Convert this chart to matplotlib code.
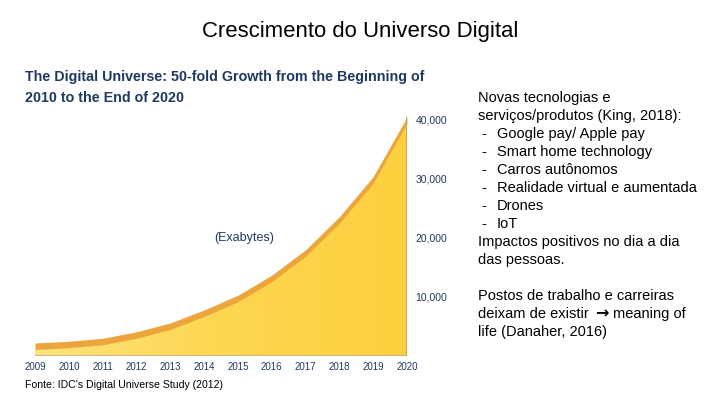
import numpy as np
import matplotlib.pyplot as plt
from matplotlib.patches import PathPatch
from matplotlib.path import Path
from matplotlib.colors import LinearSegmentedColormap

plt.rcParams["font.family"] = ["Liberation Sans", "DejaVu Sans"]

# data (exabytes, top edge of the curve)
years = [2009, 2010, 2011, 2012, 2013, 2014, 2015, 2016, 2017, 2018, 2019, 2020]
exabytes = [2200, 2500, 3000, 4100, 5600, 7800, 10300, 13700, 18000, 23600, 30400, 40500]
y_ticks = [10000, 20000, 30000, 40000]
y_tick_labels = ["10,000", "20,000", "30,000", "40,000"]

title = "Crescimento do Universo Digital"
chart_title = ["The Digital Universe: 50-fold Growth from the Beginning of",
               "2010 to the End of 2020"]
source = "Fonte: IDC's Digital Universe Study (2012)"
side_lines = [
    ("", "Novas tecnologias e"),
    ("", "serviços/produtos (King, 2018):"),
    ("-", "Google pay/ Apple pay"),
    ("-", "Smart home technology"),
    ("-", "Carros autônomos"),
    ("-", "Realidade virtual e aumentada"),
    ("-", "Drones"),
    ("-", "IoT"),
    ("", "Impactos positivos no dia a dia"),
    ("", "das pessoas."),
    ("", ""),
    ("", "Postos de trabalho e carreiras"),
]
last_lines = [("deixam de existir", "\u2192", "meaning of"), "life (Danaher, 2016)"]

navy = "#1f3a60"
W, H = 720, 405

fig = plt.figure(figsize=(7.2, 4.05), dpi=100)
fig.patch.set_facecolor("white")

ymax = 42000
ax = fig.add_axes([35 / W, 1 - 356 / H, 372 / W, (236 / H) * ymax / 40000])
ax.set_xlim(2009, 2020)
ax.set_ylim(0, ymax)

x = np.array(years, dtype=float)
y = np.array(exabytes, dtype=float)
band = 1100

# yellow front face with a soft gradient
verts = [(x[0], 0)] + list(zip(x, y - band)) + [(x[-1], 0), (x[0], 0)]
patch = PathPatch(Path(verts), facecolor="none", edgecolor="none")
ax.add_patch(patch)
grad = np.linspace(0, 1, 256).reshape(1, -1)
cmap = LinearSegmentedColormap.from_list("yel", ["#fde37e", "#fdd750", "#fccf3e"])
im = ax.imshow(grad, extent=[2009, 2020, 0, ymax], aspect="auto", cmap=cmap,
               origin="lower", zorder=1)
im.set_clip_path(patch)

# orange top band
ax.fill_between(x, y - band, y, color="#eca53c", lw=0, zorder=2)
ax.plot([2020, 2020], [0, y[-1]], color="#b8a070", lw=1.2, zorder=3)
ax.plot([2009, 2020], [0, 0], color="#c8b088", lw=1.2, zorder=3)

for s in ax.spines.values():
    s.set_visible(False)
ax.set_xticks(years)
ax.set_xticklabels([str(v) for v in years], fontsize=7, color=navy)
ax.set_yticks(y_ticks)
ax.set_yticklabels(y_tick_labels, fontsize=7.5, color=navy)
ax.yaxis.tick_right()
ax.tick_params(axis="both", length=0)
ax.tick_params(axis="x", pad=4)
ax.tick_params(axis="y", pad=6)
ax.text(2015.2, 20000, "(Exabytes)", fontsize=9, color=navy, ha="center", va="center")

fig.text(0.5, 1 - 32 / H, title, fontsize=15.9, ha="center", va="center", color="black")

# chart heading: fit first line to the width it has in the picture
t1 = fig.text(25 / W, 1 - 77 / H, chart_title[0], fontsize=12, color=navy,
              ha="left", va="center", fontweight="bold")
t2 = fig.text(25 / W, 1 - 98 / H, chart_title[1], fontsize=12, color=navy,
              ha="left", va="center", fontweight="bold")
renderer = fig.canvas.get_renderer()
wpx = t1.get_window_extent(renderer).width
size = 12 * 397 / wpx
t1.set_fontsize(size)
t2.set_fontsize(size)

fig.text(25 / W, 1 - 385 / H, source, fontsize=7.6, color="black", ha="left", va="center")

fs = 10.5
y0 = 98
for i, (bullet, txt) in enumerate(side_lines):
    yy = 1 - (y0 + i * 18) / H
    if bullet:
        fig.text(481 / W, yy, bullet, fontsize=fs, ha="left", va="center")
        fig.text(497 / W, yy, txt, fontsize=fs, ha="left", va="center")
    elif txt:
        fig.text(478 / W, yy, txt, fontsize=fs, ha="left", va="center")

yy = 1 - (y0 + len(side_lines) * 18) / H
pre, arrow, post = last_lines[0]
fig.text(478 / W, yy, pre, fontsize=fs, ha="left", va="center")
fig.text(595 / W, yy, arrow, fontsize=fs + 1, ha="left", va="center",
         family="DejaVu Sans", fontweight="bold")
fig.text(613 / W, yy, post, fontsize=fs, ha="left", va="center")
yy = 1 - (y0 + (len(side_lines) + 1) * 18) / H
fig.text(478 / W, yy, last_lines[1], fontsize=fs, ha="left", va="center")

fig.savefig("out.png", dpi=100)
